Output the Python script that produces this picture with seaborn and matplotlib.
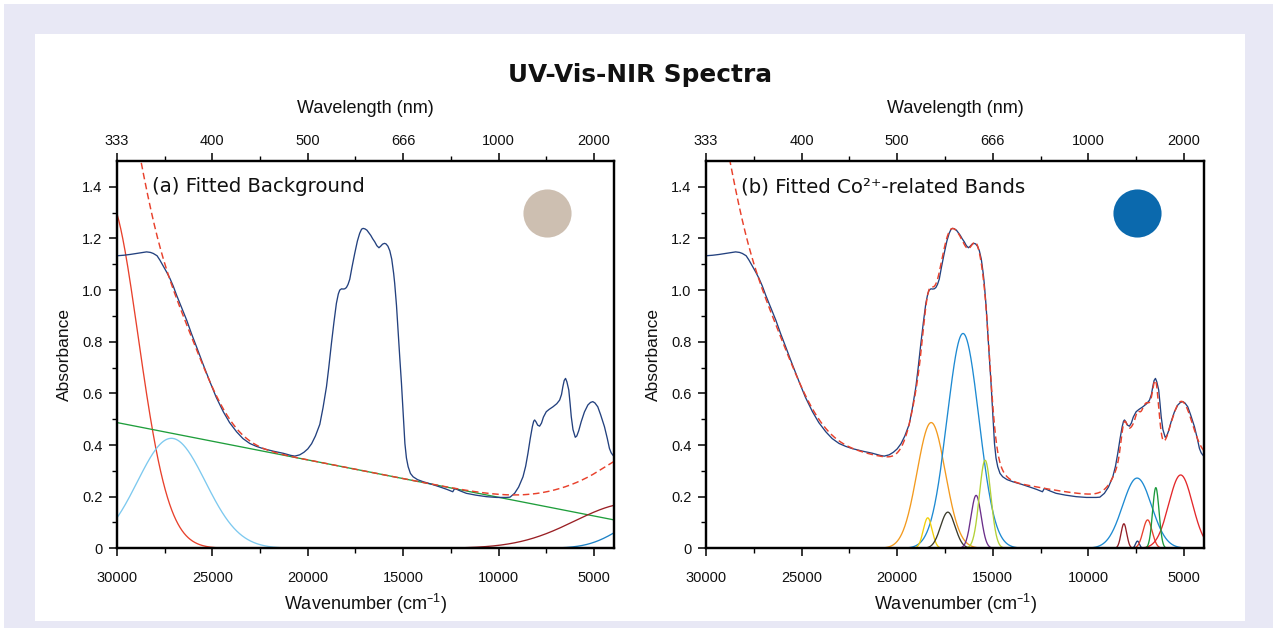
import numpy as np
import matplotlib
matplotlib.use("Agg")
import matplotlib.pyplot as plt
import seaborn as sns
from matplotlib.patches import Rectangle

# ---------------- data ----------------
# measured spectrum: wavenumber (cm-1) and absorbance
spec_wn = [30000, 29650, 29320, 28900, 28600, 28450, 28250, 28100, 27900, 27750,
           27575, 27400, 27225, 27050, 26875, 26600, 26350, 26100, 25830, 25500,
           25130, 24800, 24430, 24100, 23730, 23400, 23040, 22700, 22340, 21800,
           21290, 20900, 20680, 20420, 20200, 20000, 19800, 19600, 19370, 19200,
           19020, 18900, 18760, 18630, 18500, 18400, 18325, 18230, 18150, 18060,
           17975, 17890, 17800, 17680, 17540, 17400, 17280, 17180, 17100, 17000,
           16900, 16840, 16700, 16600, 16490, 16380, 16270, 16180, 16080, 15980,
           15900, 15800, 15700, 15600, 15500, 15445, 15350, 15270, 15180, 15090,
           15000, 14910, 14830, 14740, 14620, 14480, 14250, 13960, 13500, 13090,
           12700, 12400, 12300, 12000, 11690, 11200, 10640, 10100, 9590, 9400,
           9160, 8950, 8720, 8580, 8460, 8340, 8230, 8160, 8110, 8040,
           7950, 7850, 7750, 7650, 7500, 7350, 7150, 6950, 6800, 6700,
           6630, 6560, 6490, 6420, 6320, 6250, 6190, 6100, 5980, 5900,
           5800, 5670, 5500, 5320, 5180, 5060, 4950, 4800, 4650, 4450,
           4300, 4190, 4100, 4010, 3950]
spec_abs = [1.133, 1.135, 1.138, 1.143, 1.147, 1.148, 1.146, 1.142, 1.133, 1.116,
            1.093, 1.070, 1.045, 1.015, 0.980, 0.930, 0.884, 0.832, 0.780, 0.715,
            0.645, 0.585, 0.529, 0.487, 0.451, 0.425, 0.406, 0.395, 0.386, 0.376,
            0.368, 0.360, 0.357, 0.362, 0.372, 0.385, 0.405, 0.435, 0.480, 0.545,
            0.626, 0.700, 0.794, 0.875, 0.949, 0.985, 1.000, 1.005, 1.004, 1.005,
            1.010, 1.022, 1.042, 1.090, 1.142, 1.190, 1.220, 1.236, 1.239, 1.237,
            1.232, 1.226, 1.212, 1.199, 1.187, 1.172, 1.164, 1.170, 1.178, 1.181,
            1.179, 1.170, 1.152, 1.120, 1.065, 1.026, 0.940, 0.845, 0.740, 0.639,
            0.520, 0.406, 0.350, 0.316, 0.290, 0.277, 0.266, 0.258, 0.248, 0.238,
            0.228, 0.219, 0.232, 0.222, 0.213, 0.206, 0.200, 0.197, 0.197, 0.198,
            0.213, 0.237, 0.277, 0.318, 0.368, 0.425, 0.471, 0.492, 0.497, 0.490,
            0.477, 0.473, 0.485, 0.508, 0.529, 0.538, 0.548, 0.560, 0.574, 0.596,
            0.626, 0.650, 0.658, 0.645, 0.613, 0.560, 0.510, 0.460, 0.430, 0.435,
            0.455, 0.490, 0.528, 0.555, 0.565, 0.568, 0.563, 0.548, 0.517, 0.471,
            0.425, 0.387, 0.370, 0.361, 0.355]

# background components (centre cm-1, height, width sigma cm-1)
bg_uv = [30500, 1.36, 1600]
bg_uvband = [27150, 0.426, 1780]
bg_nir_a = [3000, 0.175, 3000]
bg_nir_b = [2000, 0.12, 1656]
bg_line_wn = [3950, 30000]
bg_line_abs = [0.11, 0.487]

# Co2+-related bands (centre cm-1, height, sigma cm-1)
band_centres = [18220, 16555, 18400, 17350, 15870, 15400, 7430, 7450, 6900, 5170, 6470, 8140]
band_heights = [0.487, 0.832, 0.118, 0.140, 0.205, 0.341, 0.028, 0.272, 0.110, 0.284, 0.235, 0.095]
band_sigmas = [740, 830, 230, 380, 265, 300, 100, 760, 240, 620, 170, 150]

# axis ticks
wn_major = [30000, 25000, 20000, 15000, 10000, 5000]
wn_labels = ["30000", "25000", "20000", "15000", "10000", "5000"]
wl_labels = ["333", "400", "500", "666", "1000", "2000"]
wn_minor = [27500, 22500, 17500, 12500, 7500]
abs_major = [0, 0.2, 0.4, 0.6, 0.8, 1.0, 1.2, 1.4]
abs_labels = ["0", "0.2", "0.4", "0.6", "0.8", "1.0", "1.2", "1.4"]
abs_minor = [0.1, 0.3, 0.5, 0.7, 0.9, 1.1, 1.3]

# ---------------- styles ----------------
band_colors = ["#f39a1e", "#1d8ad2", "#f2cf08", "#3b3b2c", "#6b2f8a", "#b3d136",
               "#23417f", "#1d8ad2", "#e8412c", "#e3282b", "#1a9a3c", "#931e26"]
NAVY = "#23417f"
RED = "#e8412c"

sns.set_theme(style="ticks")
plt.rcParams["font.family"] = ["Liberation Sans", "DejaVu Sans"]
plt.rcParams["mathtext.default"] = "regular"
plt.rcParams["axes.edgecolor"] = "black"
plt.rcParams["axes.linewidth"] = 1.5

W, H = 1277, 628
fig = plt.figure(figsize=(W / 100, H / 100), dpi=100)
fig.patch.set_facecolor("white")
fig.add_artist(Rectangle((4 / W, 0), (W - 8) / W, (H - 4) / H, transform=fig.transFigure,
                         facecolor="#e8e8f5", edgecolor="none", zorder=-10))
fig.add_artist(Rectangle((35 / W, (H - 621) / H), (1245 - 35) / W, (621 - 34) / H,
                         transform=fig.transFigure, facecolor="white", edgecolor="none", zorder=-9))

fig.text(640 / W, 1 - 75 / H, "UV-Vis-NIR Spectra", ha="center", va="center",
         fontsize=17.8, fontweight="bold", family="DejaVu Sans", color="#111111")

y0, y1 = 548.3, 161
axL = fig.add_axes([117 / W, 1 - y0 / H, 497 / W, (y0 - y1) / H])
axR = fig.add_axes([706 / W, 1 - y0 / H, 498 / W, (y0 - y1) / H])

grid = np.linspace(3950, 30000, 2400)


def gauss(p):
    c, h, s = p
    return h * np.exp(-(grid - c) ** 2 / (2 * s ** 2))


uv = gauss(bg_uv)
uvb = gauss(bg_uvband)
nira = gauss(bg_nir_a)
nirb = gauss(bg_nir_b)
line = np.interp(grid, bg_line_wn, bg_line_abs)
bg_total = uv + uvb + nira + nirb + line
bands = [gauss((c, h, s)) for c, h, s in zip(band_centres, band_heights, band_sigmas)]
fit_total = bg_total + np.sum(bands, axis=0)

lw = 0.95


def line_plot(ax, x, y, color, dashed=False, z=2):
    kw = dict(x=x, y=y, ax=ax, color=color, linewidth=lw, legend=False,
              estimator=None, sort=False, zorder=z)
    l = sns.lineplot(**kw)
    if dashed:
        l.lines[-1].set_dashes((4.5, 2.5))
        l.lines[-1].set_linewidth(1.05)


# ---- panel (a)
line_plot(axL, grid, uv, "#e8412c")
line_plot(axL, grid, uvb, "#7dc9ef")
line_plot(axL, grid, line, "#1f9e3c")
line_plot(axL, grid, nira, "#9a1f24")
line_plot(axL, grid, nirb, "#1d82c6")
line_plot(axL, spec_wn, spec_abs, NAVY, z=3)
line_plot(axL, grid, bg_total, RED, dashed=True, z=4)

# ---- panel (b)
for b, col in zip(bands, band_colors):
    line_plot(axR, grid, b, col)
line_plot(axR, spec_wn, spec_abs, NAVY, z=3)
line_plot(axR, grid, fit_total, RED, dashed=True, z=4)

titles = ["(a) Fitted Background", "(b) Fitted Co\u00b2\u207a-related Bands"]
circle_cols = ["#cdbfb1", "#0b69ad"]
for ax, t, cc in zip((axL, axR), titles, circle_cols):
    ax.set_xlim(30000, 3950)
    ax.set_ylim(0, 1.5)
    ax.set_xticks(wn_major)
    ax.set_xticklabels(wn_labels)
    ax.set_xticks(wn_minor, minor=True)
    ax.set_yticks(abs_major)
    ax.set_yticklabels(abs_labels)
    ax.set_yticks(abs_minor, minor=True)
    ax.tick_params(axis="both", which="major", direction="out", length=5.5, width=1.1,
                   labelsize=10.5, color="black", labelcolor="#111111")
    ax.tick_params(axis="both", which="minor", direction="out", length=3.5, width=1.0, color="black")
    ax.tick_params(axis="x", which="major", pad=11)
    ax.tick_params(axis="y", which="major", pad=5)
    ax.tick_params(right=False, top=False, which="both")
    for s in ax.spines.values():
        s.set_visible(True)
        s.set_linewidth(1.6)
        s.set_color("black")
    ax.set_xlabel("Wavenumber (cm$^{\u2013 1}$)", fontsize=13, labelpad=5, color="#111111")
    ax.set_ylabel("Absorbance", fontsize=12.5, labelpad=7, color="#111111")
    ax.text(0.071, 0.933, t, transform=ax.transAxes, ha="left", va="center",
            fontsize=14.2, family="DejaVu Sans", color="#111111")
    ax.scatter([0.865], [0.866], s=1200, color=cc, transform=ax.transAxes,
               zorder=5, linewidths=0, clip_on=False)
    ax.set_facecolor("white")

    top = ax.twiny()
    top.set_xlim(30000, 3950)
    top.set_xticks(wn_major)
    top.set_xticklabels(wl_labels)
    top.set_xticks(wn_minor, minor=True)
    top.tick_params(axis="x", which="major", direction="out", length=5.5, width=1.1,
                    labelsize=10.5, pad=4, color="black", labelcolor="#111111")
    top.tick_params(axis="x", which="minor", direction="out", length=3.5, width=1.0, color="black")
    top.set_xlabel("Wavelength (nm)", fontsize=13, labelpad=15, color="#111111")
    for s in top.spines.values():
        s.set_linewidth(1.6)
        s.set_color("black")

fig.savefig("out.png", dpi=100, facecolor=fig.get_facecolor())
